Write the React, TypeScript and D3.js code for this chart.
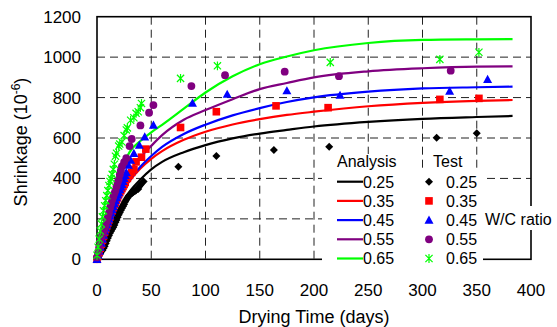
import React from "react";
import * as d3 from "d3";

// ---------- data ----------
const xTicks = [0, 50, 100, 150, 200, 250, 300, 350, 400];
const yTicks = [0, 200, 400, 600, 800, 1000, 1200];
const ratios = ["0.25", "0.35", "0.45", "0.55", "0.65"];
const colors = ["#000000", "#ff0000", "#0000ff", "#800080", "#00ff00"];

const analysisDays = [0, 5, 10, 15, 20, 25, 30, 40, 50, 60, 80, 100, 125, 150, 175, 200, 250, 300, 350, 383];
const analysis025 = [0, 70, 140, 200, 250, 295, 335, 395, 445, 482, 530, 565, 598, 622, 640, 657, 680, 695, 704, 709];
const analysis035 = [0, 103, 184, 250, 303, 348, 387, 449, 497, 535, 591, 631, 667, 693, 714, 730, 757, 774, 784, 788];
const analysis045 = [0, 99, 179, 246, 302, 350, 391, 458, 511, 556, 620, 666, 712, 748, 778, 801, 829, 845, 851, 854];
const analysis055 = [0, 109, 197, 270, 332, 385, 430, 504, 561, 614, 690, 738, 792, 842, 872, 900, 930, 945, 953, 954];
const analysis065 = [0, 125, 230, 320, 400, 475, 530, 585, 628, 665, 745, 825, 905, 965, 1003, 1034, 1070, 1085, 1088, 1089];

const test025: [number, number][] = [
  [0, 0], [1, 8], [2, 18], [3, 28], [4, 38], [5, 45], [6, 55], [7, 65], [8, 78], [9, 92], [10, 105],
  [11, 118], [12, 130], [13, 140], [14, 150], [15, 158], [16, 170], [17, 183], [18, 195], [19, 208],
  [20, 220], [21, 232], [22, 243], [23, 252], [24, 262], [25, 272], [26, 285], [27, 295], [28, 303],
  [29, 312], [30, 318], [31, 322], [32, 327], [33, 330], [34, 335], [35, 338], [36, 342], [37, 350],
  [38, 348], [39, 360], [40, 368], [41, 375], [43, 385], [75, 458], [110, 511], [163, 541], [214, 557],
  [313, 601], [350, 623],
];
const test035: [number, number][] = [
  [0, 0], [1, 15], [2, 35], [3, 55], [4, 75], [5, 95], [6, 115], [7, 135], [8, 150], [9, 165], [10, 180],
  [11, 195], [12, 210], [14, 240], [15, 255], [16, 270], [17, 280], [18, 295], [19, 305], [20, 320],
  [21, 330], [22, 340], [23, 350], [24, 360], [25, 370], [26, 380], [28, 400], [30, 415], [32, 430],
  [34, 445], [36, 482], [41, 505], [45, 545], [77, 652], [110, 730], [165, 759], [213, 750], [316, 791], [352, 796],
];
const test045: [number, number][] = [
  [0, 0], [1, 20], [2, 40], [3, 60], [4, 80], [5, 100], [6, 120], [7, 140], [8, 155], [9, 170], [10, 185],
  [11, 200], [12, 215], [13, 230], [14, 245], [15, 260], [16, 275], [17, 290], [18, 305], [19, 318],
  [20, 330], [21, 345], [22, 358], [23, 370], [24, 385], [25, 400], [26, 415], [27, 430], [29, 466],
  [31, 490], [34, 524], [39, 565], [44, 606], [52, 664], [88, 773], [120, 817], [175, 834], [224, 812],
  [325, 832], [360, 890],
];
const test055: [number, number][] = [
  [0, 10], [1, 30], [2, 60], [3, 90], [4, 110], [5, 125], [6, 140], [7, 155], [8, 170], [9, 190], [10, 210],
  [11, 230], [12, 255], [13, 275], [14, 295], [15, 310], [16, 325], [17, 340], [18, 360], [19, 380],
  [20, 395], [21, 420], [22, 440], [23, 460], [25, 480], [27, 500], [30, 560], [32, 595], [40, 662],
  [48, 725], [52, 763], [87, 857], [118, 911], [173, 928], [223, 906], [326, 933],
];
const test065: [number, number][] = [
  [0, 20], [1, 60], [2, 100], [3, 140], [4, 175], [5, 210], [6, 240], [7, 265], [8, 290], [9, 315],
  [10, 340], [11, 365], [12, 385], [13, 400], [14, 420], [15, 445], [16, 470], [17, 510], [18, 525],
  [20, 560], [21, 570], [23, 580], [25, 612], [27, 640], [28, 650], [31, 688], [34, 700], [36, 722],
  [38, 730], [40, 750], [41, 771], [77, 895], [111, 957], [215, 974], [316, 989], [352, 1024],
];

const analysisSeries = [analysis025, analysis035, analysis045, analysis055, analysis065];
const testSeries = [test025, test035, test045, test055, test065];

// ---------- layout ----------
const W = 557;
const H = 327;
const X0 = 97, X1 = 531, Y0 = 259.3, Y1 = 16.7;
const FONT = "Arial, 'Liberation Sans', Helvetica, sans-serif";

function Marker({ kind, x, y, color }: { kind: number; x: number; y: number; color: string }) {
  if (kind === 0) {
    const s = 4;
    return <path d={`M${x},${y - s}L${x + s},${y}L${x},${y + s}L${x - s},${y}Z`} fill={color} />;
  }
  if (kind === 1) {
    const s = 3.8;
    return <rect x={x - s} y={y - s} width={2 * s} height={2 * s} fill={color} />;
  }
  if (kind === 2) {
    const s = 4.5;
    return <path d={`M${x},${y - s}L${x + s},${y + s * 0.8}L${x - s},${y + s * 0.8}Z`} fill={color} />;
  }
  if (kind === 3) {
    return <circle cx={x} cy={y} r={3.9} fill={color} />;
  }
  const s = 3.6;
  return (
    <path
      d={`M${x - s},${y - s}L${x + s},${y + s}M${x - s},${y + s}L${x + s},${y - s}M${x},${y - s - 0.8}L${x},${y + s + 0.8}`}
      stroke={color}
      strokeWidth={1.2}
      fill="none"
    />
  );
}

export default function App() {
  const x = d3.scaleLinear().domain([0, 400]).range([X0, X1]);
  const y = d3.scaleLinear().domain([0, 1200]).range([Y0, Y1]);
  const line = d3
    .line<number>()
    .x((_, i) => x(analysisDays[i]))
    .y((d) => y(d))
    .curve(d3.curveMonotoneX);

  const rowY = (i: number) => 181.7 + i * 19.2;

  return (
    <svg width={W} height={H} style={{ position: "absolute", left: 0, top: 0, background: "#fff" }} fontFamily={FONT}>
      <rect x={0} y={0} width={W} height={H} fill="#fff" />
      {/* grid */}
      {xTicks.filter((t) => t > 0 && t < 400).map((t) => (
        <line key={"gx" + t} x1={x(t)} x2={x(t)} y1={Y1} y2={Y0} stroke="#222" strokeWidth={1} strokeDasharray="8,5" />
      ))}
      {yTicks.filter((t) => t > 0 && t < 1200).map((t) => (
        <line key={"gy" + t} x1={X0} x2={X1} y1={y(t)} y2={y(t)} stroke="#222" strokeWidth={1} strokeDasharray="8,5" />
      ))}
      {/* frame */}
      <rect x={X0} y={Y1} width={X1 - X0} height={Y0 - Y1} fill="none" stroke="#000" strokeWidth={1.6} />
      {/* lines */}
      {analysisSeries.map((s, i) => (
        <path key={"l" + i} d={line(s) || ""} fill="none" stroke={colors[i]} strokeWidth={2.2} />
      ))}
      {/* markers */}
      {testSeries.map((s, i) => (
        <g key={"m" + i}>
          {s.map(([t, v], j) => (
            <Marker key={j} kind={i} x={x(t)} y={y(v)} color={colors[i]} />
          ))}
        </g>
      ))}
      {/* tick labels */}
      {xTicks.map((t) => (
        <text key={"xt" + t} x={x(t)} y={296} textAnchor="middle" fontSize={17}>
          {t}
        </text>
      ))}
      {yTicks.map((t) => (
        <text key={"yt" + t} x={81} y={y(t) + 6} textAnchor="end" fontSize={17}>
          {t}
        </text>
      ))}
      {/* axis titles */}
      <text x={314} y={323} textAnchor="middle" fontSize={18}>
        Drying Time (days)
      </text>
      <text transform="translate(27,142) rotate(-90)" textAnchor="middle" fontSize={18}>
        Shrinkage (10<tspan fontSize={12} dy={-7}>-6</tspan><tspan dy={7}>)</tspan>
      </text>
      {/* legend */}
      <rect x={322} y={171} width={161} height={97} fill="#fff" />
      <rect x={335} y={154} width={64} height={18} fill="#fff" />
      <rect x={431} y={154} width={34} height={18} fill="#fff" />
      <text x={337} y={167} fontSize={16}>Analysis</text>
      <text x={433} y={167} fontSize={16}>Test</text>
      {ratios.map((r, i) => (
        <g key={"lg" + i}>
          <line x1={337} x2={363} y1={rowY(i)} y2={rowY(i)} stroke={colors[i]} strokeWidth={2.2} />
          <text x={363} y={rowY(i) + 5.8} fontSize={16}>{r}</text>
          <Marker kind={i} x={429} y={rowY(i)} color={colors[i]} />
          <text x={446} y={rowY(i) + 5.8} fontSize={16}>{r}</text>
        </g>
      ))}
      <rect x={483} y={206} width={74} height={24} fill="#fff" />
      <text x={485} y={225} fontSize={16}>W/C ratio</text>
    </svg>
  );
}
